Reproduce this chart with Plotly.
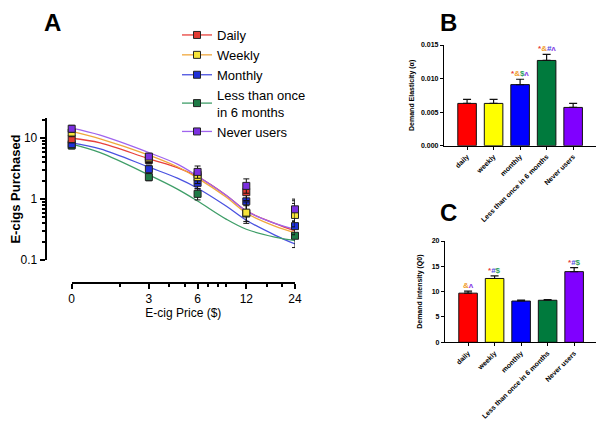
import numpy as np
import plotly.graph_objects as go

# ---- Panel A: e-cig purchase task (means +/- error at each price) ----
price = [0, 3, 6, 12, 24]
price_ticks = ["0", "3", "6", "12", "24"]

daily_mean = [9.7, 4.4, 2.5, 1.3, 0.64]
daily_up = [1.5, 0.7, 0.6, 0.45, 0.3]
daily_dn = [1.3, 0.6, 0.5, 0.35, 0.2]

weekly_mean = [12.4, 4.7, 2.3, 0.6, 0.55]
weekly_up = [2.0, 0.8, 0.6, 0.3, 0.3]
weekly_dn = [1.8, 0.7, 0.5, 0.2, 0.2]

monthly_mean = [8.0, 3.1, 1.85, 0.92, 0.36]
monthly_up = [1.2, 0.5, 0.4, 0.3, 0.15]
monthly_dn = [1.0, 0.4, 0.35, 0.25, 0.1]

less_mean = [7.6, 2.3, 1.22, 0.58, 0.25]
less_up = [1.0, 0.35, 0.25, 0.2, 0.1]
less_dn = [0.9, 0.3, 0.25, 0.15, 0.09]

never_mean = [14.3, 5.0, 2.8, 1.65, 0.68]
never_up = [2.0, 0.6, 0.7, 0.5, 0.32]
never_dn = [1.8, 0.5, 0.6, 0.4, 0.25]

# fitted demand curves
curve_price = [0, 1.5, 3, 4.5, 6, 9, 12, 18, 24]
curve_daily = [10.0, 8.4, 4.6, 3.3, 2.34, 1.16, 0.64, 0.40, 0.30]
curve_weekly = [13.0, 9.8, 5.3, 3.4, 2.21, 1.08, 0.59, 0.36, 0.28]
curve_monthly = [8.4, 6.7, 3.35, 2.21, 1.51, 0.77, 0.45, 0.257, 0.183]
curve_less = [8.0, 5.8, 2.5, 1.46, 0.93, 0.47, 0.32, 0.238, 0.209]
curve_never = [14.6, 11.2, 5.8, 3.75, 2.38, 1.16, 0.64, 0.40, 0.32]

# ---- Panels B and C: bar charts by group ----
bar_groups = ["daily", "weekly", "monthly", "Less than once in 6 months", "Never users"]
elasticity = [0.0063, 0.0063, 0.0091, 0.0127, 0.0057]
elasticity_err = [0.0006, 0.0006, 0.0008, 0.0009, 0.0006]
intensity = [9.7, 12.6, 8.15, 8.3, 13.95]
intensity_err = [0.4, 0.5, 0.2, 0.15, 0.8]

# page body keeps its 8px margin, so the figure is 8px smaller than the window
OFF = 8
W, H = 604 - OFF, 430 - OFF
FONT = "Arial, Liberation Sans, sans-serif"


def px(x):
    return (x - OFF) / W


def py(y):
    return 1 - (y - OFF) / H


def logpos(p):
    # GraphPad puts price 0 where 1 would be on the log axis
    return [v if v > 0 else 1 for v in p]


series = [
    ("Daily", daily_mean, daily_up, daily_dn, curve_daily, "#e33b33", "#e8413c"),
    ("Weekly", weekly_mean, weekly_up, weekly_dn, curve_weekly, "#f6e43a", "#f0a83c"),
    ("Monthly", monthly_mean, monthly_up, monthly_dn, curve_monthly, "#1f30d8", "#4a52e0"),
    ("Less than once<br>in 6 months", less_mean, less_up, less_dn, curve_less, "#1d7a45", "#3f9e68"),
    ("Never users", never_mean, never_up, never_dn, curve_never, "#7b2fe0", "#a064ee"),
]

fig = go.Figure()

# curves
for name, m, up, dn, curve, fill, lc in series:
    fig.add_trace(go.Scatter(
        x=logpos(curve_price), y=curve, mode="lines",
        line=dict(color=lc, width=1.3, shape="spline"),
        showlegend=False, hoverinfo="skip", xaxis="x", yaxis="y"))

# data points
draw_order = [3, 2, 0, 1, 4]
for i in draw_order:
    name, m, up, dn, curve, fill, lc = series[i]
    fig.add_trace(go.Scatter(
        x=logpos(price), y=m, mode="markers", name=name,
        marker=dict(symbol="square", size=7, color=fill,
                    line=dict(color="#222", width=1)),
        error_y=dict(type="data", symmetric=False, array=up, arrayminus=dn,
                     color="#111", thickness=1, width=3),
        cliponaxis=False, showlegend=False, xaxis="x", yaxis="y"))

# legend entries
for name, m, up, dn, curve, fill, lc in series:
    fig.add_trace(go.Scatter(
        x=[None], y=[None], mode="lines+markers", name=name,
        line=dict(color=lc, width=1.3),
        marker=dict(symbol="square", size=7, color=fill,
                    line=dict(color="#222", width=1)),
        xaxis="x", yaxis="y"))

# dummy so the separate price axis is drawn
fig.add_trace(go.Scatter(x=[None], y=[None], xaxis="x2", yaxis="y",
                         showlegend=False, hoverinfo="skip"))

bar_colors = ["#ff0000", "#ffff00", "#0000ff", "#007a3d", "#8000ff"]
xpos = list(range(len(bar_groups)))

fig.add_trace(go.Bar(
    x=xpos, y=elasticity, width=0.7, marker=dict(color=bar_colors, line=dict(color="#111", width=1)),
    error_y=dict(type="data", symmetric=False, array=elasticity_err, arrayminus=[0] * 5,
                 color="#111", thickness=1.2, width=4),
    showlegend=False, xaxis="x3", yaxis="y3"))

fig.add_trace(go.Bar(
    x=xpos, y=intensity, width=0.7, marker=dict(color=bar_colors, line=dict(color="#111", width=1)),
    error_y=dict(type="data", symmetric=False, array=intensity_err, arrayminus=[0] * 5,
                 color="#111", thickness=1.2, width=4),
    showlegend=False, xaxis="x4", yaxis="y4"))

RED, ORA, GRN, BLU, PUR = "#e8413c", "#f0a030", "#2e9e5b", "#4a4ae0", "#8a44e6"


def sym(parts):
    return "".join(f'<span style="color:{c}">{t}</span>' for t, c in parts)


b_marks = {2: [("*", RED), ("&amp;", ORA), ("$", GRN), ("ʌ", PUR)],
           3: [("*", RED), ("&amp;", ORA), ("#", BLU), ("ʌ", PUR)]}
c_marks = {0: [("&amp;", ORA), ("ʌ", PUR)],
           1: [("*", RED), ("#", BLU), ("$", GRN)],
           4: [("*", RED), ("#", BLU), ("$", GRN)]}

for i, parts in b_marks.items():
    fig.add_annotation(x=i, y=elasticity[i] + elasticity_err[i], xref="x3", yref="y3",
                       text="<b>" + sym(parts) + "</b>", showarrow=False, yanchor="bottom",
                       yshift=0, borderpad=0, font=dict(size=8, family=FONT))
for i, parts in c_marks.items():
    fig.add_annotation(x=i, y=intensity[i] + intensity_err[i], xref="x4", yref="y4",
                       text="<b>" + sym(parts) + "</b>", showarrow=False, yanchor="bottom",
                       yshift=0, borderpad=0, font=dict(size=8, family=FONT))

# panel letters (A and B hang from the top edge)
for letter, x, y, anchor in [("A", 52, OFF, "top"), ("B", 448, OFF, "top"), ("C", 448, 213, "middle")]:
    fig.add_annotation(x=px(x), y=py(y), xref="paper", yref="paper", text=f"<b>{letter}</b>",
                       xanchor="center", yanchor=anchor, showarrow=False, borderpad=0,
                       font=dict(size=24, family=FONT, color="black"))

axA = dict(showline=True, linecolor="black", linewidth=2, ticks="outside", tickwidth=2,
           ticklen=5, tickcolor="black", showgrid=False, zeroline=False,
           tickfont=dict(size=12, family=FONT, color="black"))
small = dict(showline=True, linecolor="black", linewidth=1.3, ticks="outside", tickwidth=1.2,
             ticklen=3, tickcolor="black", showgrid=False, zeroline=False,
             tickfont=dict(size=7, family=FONT, color="black", weight="bold"))

a_left, a_zero, a_right = 46.7, 71.7, 295
a_top, a_bot, a_xline = 118, 260, 283
x_lo = np.log10(24) - (a_right - a_left) / (a_right - a_zero) * np.log10(24)

fig.update_layout(
    width=W, height=H, margin=dict(l=0, r=0, t=0, b=0),
    paper_bgcolor="white", plot_bgcolor="rgba(0,0,0,0)", template="none",
    font=dict(family=FONT, color="black"),
    xaxis=dict(domain=[px(a_left), px(a_right)], type="log", range=[x_lo, np.log10(24)],
               visible=False, anchor="y"),
    xaxis2=dict(axA, domain=[px(a_zero), px(a_right)], type="log", range=[0, np.log10(24)],
                anchor="free", position=py(a_xline), tickvals=logpos(price), ticktext=price_ticks,
                minor=dict(tickvals=[2, 4, 5, 7, 8, 9, 16, 20], ticks="outside", ticklen=3,
                           tickwidth=1.5, tickcolor="black"),
                title=dict(text="E-cig Price ($)", font=dict(size=12, family=FONT), standoff=1)),
    yaxis=dict(axA, domain=[py(a_bot), py(a_top)], type="log", range=[-1, np.log10(21.5)],
               anchor="x", tickvals=[0.1, 1, 10], ticktext=["0.1", "1", "10"],
               minor=dict(tickvals=[0.2, 0.3, 0.4, 0.5, 0.6, 0.7, 0.8, 0.9,
                                    2, 3, 4, 5, 6, 7, 8, 9, 20],
                          ticks="outside", ticklen=3, tickwidth=1.5, tickcolor="black"),
               title=dict(text="<b>E-cigs Purchased</b>", font=dict(size=13, family=FONT),
                          standoff=6)),
    xaxis3=dict(small, domain=[px(444), px(597)], anchor="y3", range=[-0.87, 4.9],
                tickvals=xpos, ticktext=bar_groups, tickangle=-45),
    yaxis3=dict(small, domain=[py(145.7), py(45)], anchor="x3", range=[0, 0.015],
                tickvals=[0, 0.005, 0.01, 0.015], tickformat=".3f",
                title=dict(text="<b>Demand Elasticity (α)</b>", font=dict(size=7, family=FONT),
                           standoff=5)),
    xaxis4=dict(small, domain=[px(445), px(598)], anchor="y4", range=[-0.87, 4.9],
                tickvals=xpos, ticktext=bar_groups, tickangle=-45),
    yaxis4=dict(small, domain=[py(342.3), py(241)], anchor="x4", range=[0, 20],
                tickvals=[0, 5, 10, 15, 20],
                title=dict(text="<b>Demand intensity (Q0)</b>", font=dict(size=7, family=FONT),
                           standoff=8)),
    legend=dict(x=px(177), y=py(20), xanchor="left", yanchor="top",
                bgcolor="rgba(0,0,0,0)", font=dict(size=13, family=FONT),
                itemwidth=30, tracegroupgap=0),
    showlegend=True,
)

fig.write_html("out.html")
